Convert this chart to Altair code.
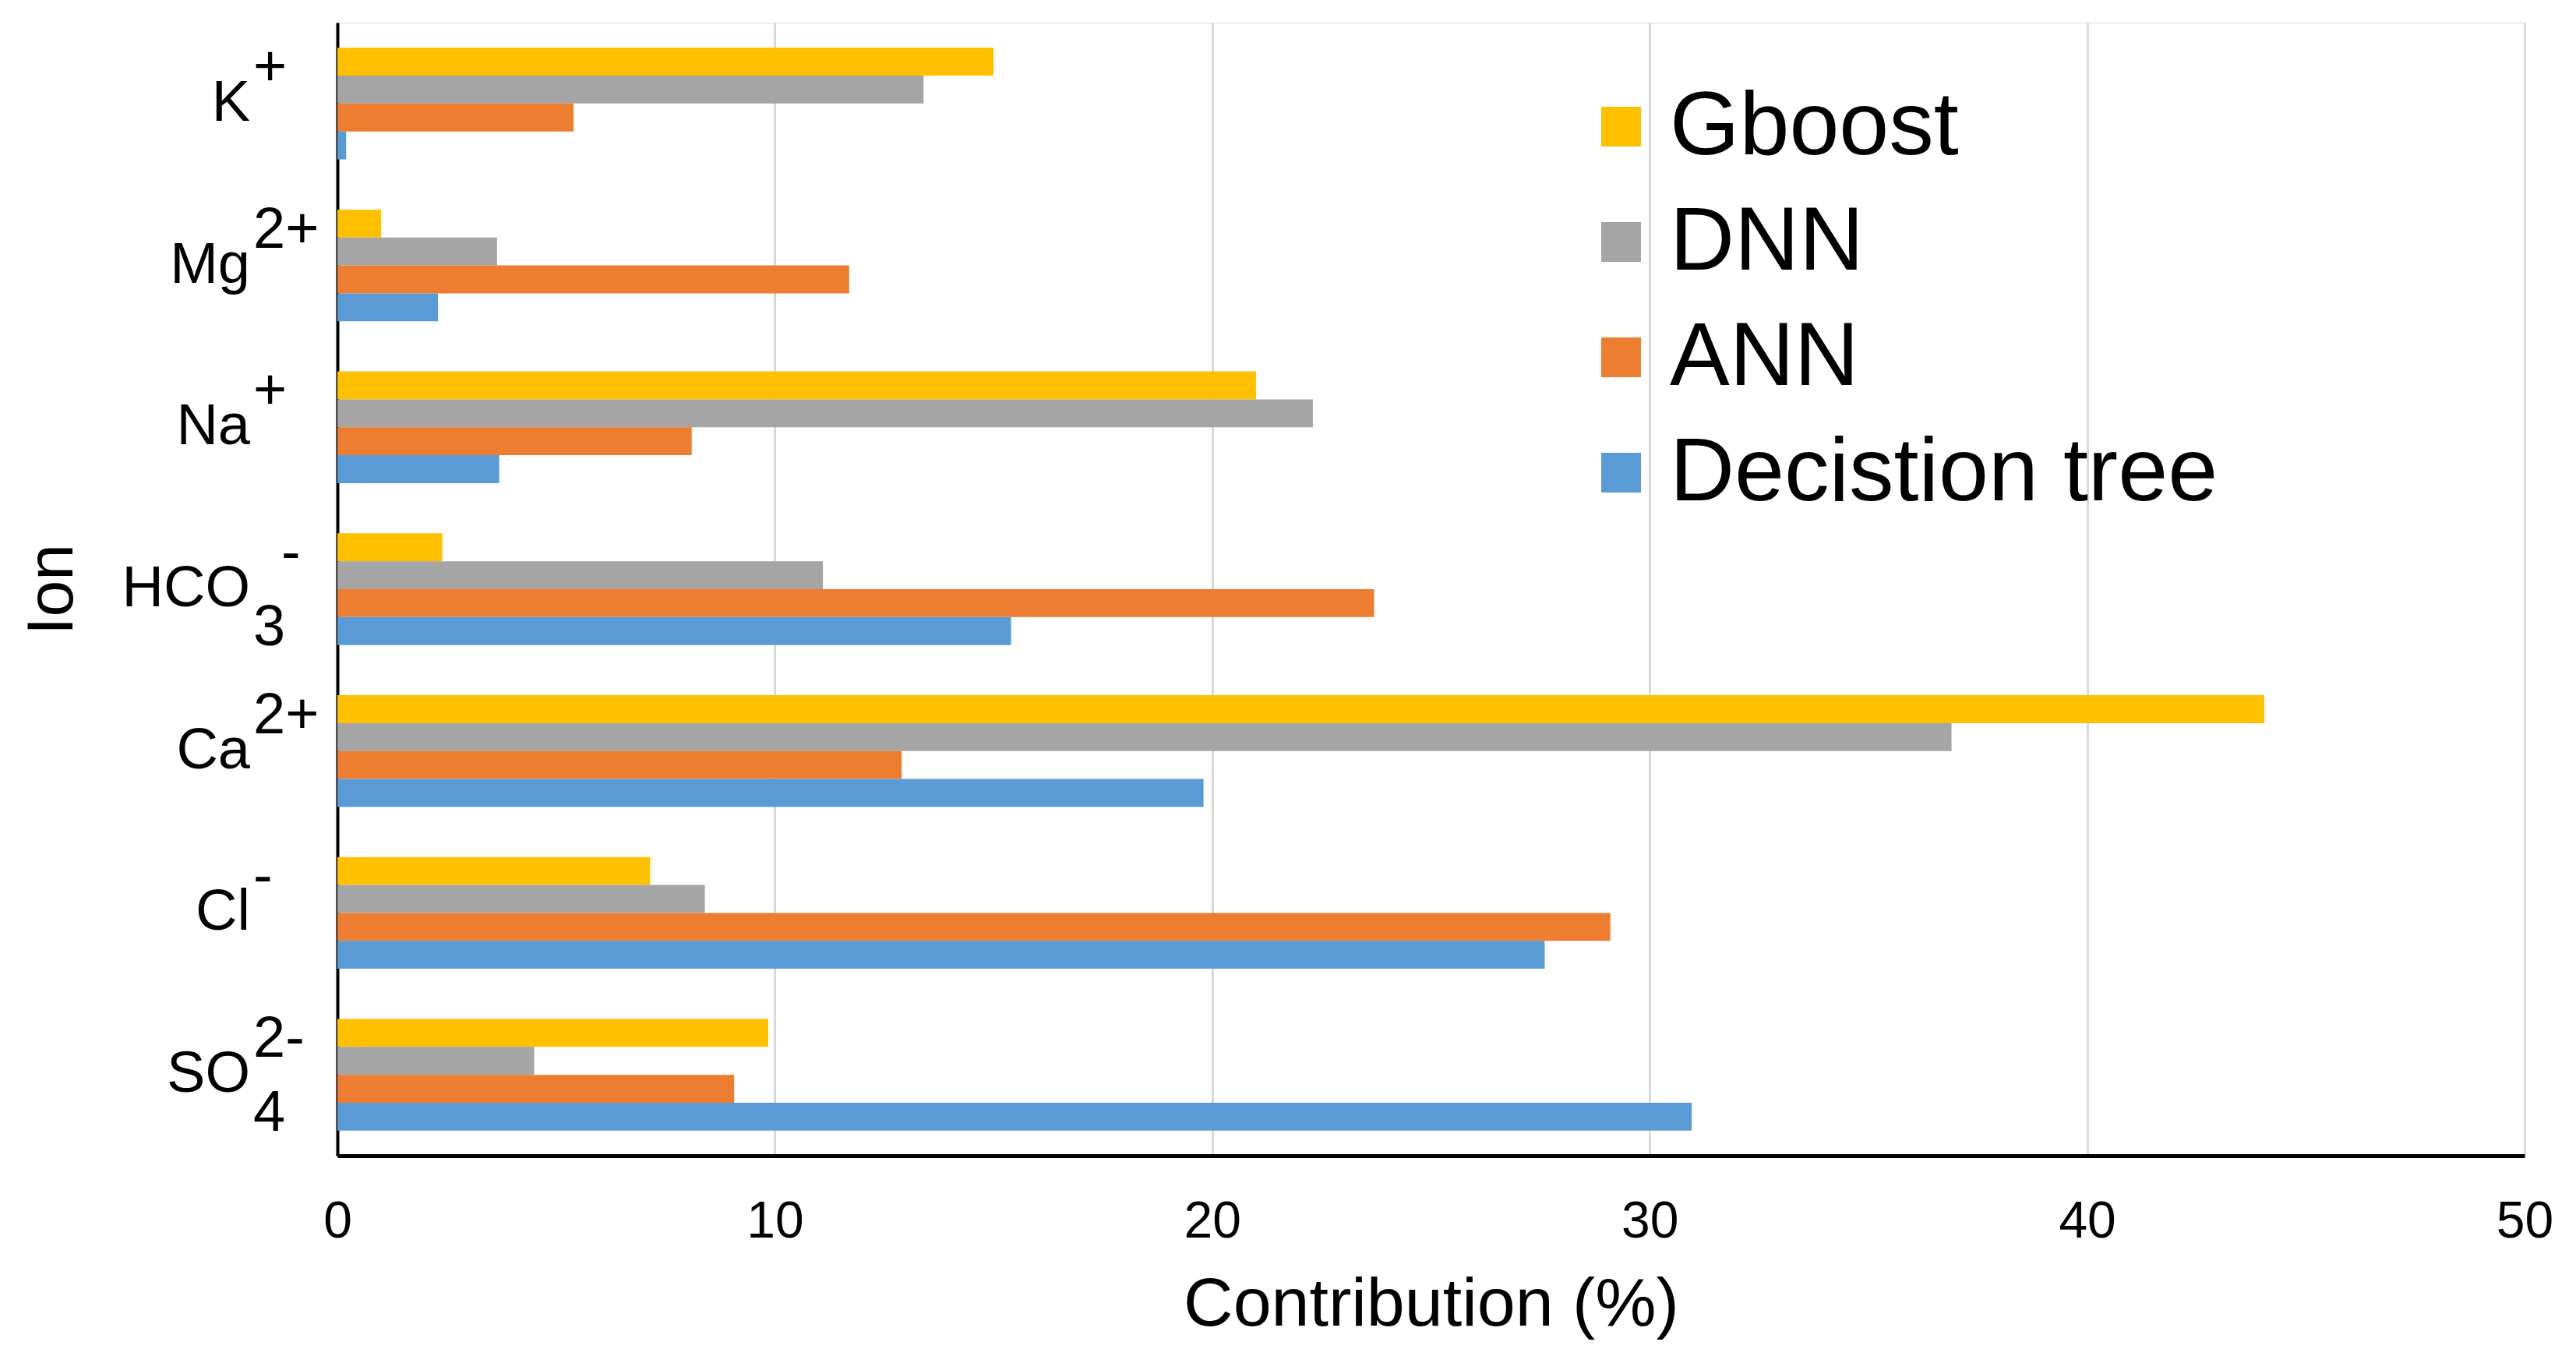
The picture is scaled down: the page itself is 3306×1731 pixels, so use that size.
import altair as alt
import pandas as pd

# ---- data ----
ions = ["K+", "Mg2+", "Na+", "HCO3-", "Ca2+", "Cl-", "SO42-"]
ion_base = ["K", "Mg", "Na", "HCO", "Ca", "Cl", "SO"]
ion_sup = ["+", "2+", "+", "", "2+", "-", "2-"]
ion_sub = ["", "", "", "3", "", "", "4"]
ion_sup_after_sub = ["", "", "", "-", "", "", ""]

models = ["Gboost", "DNN", "ANN", "Decistion tree"]
colors = ["#FFC000", "#A5A5A5", "#ED7D31", "#5B9BD5"]

gboost = [15.0, 1.0, 21.0, 2.4, 44.05, 7.15, 9.85]
dnn = [13.4, 3.65, 22.3, 11.1, 36.9, 8.4, 4.5]
ann = [5.4, 11.7, 8.1, 23.7, 12.9, 29.1, 9.07]
dtree = [0.2, 2.3, 3.7, 15.4, 19.8, 27.6, 30.96]

x_ticks = [0, 10, 20, 30, 40, 50]

# ---- tables ----
series = {"Gboost": gboost, "DNN": dnn, "ANN": ann, "Decistion tree": dtree}
rows = []
for m in models:
    for ion, v in zip(ions, series[m]):
        rows.append({"ion": ion, "model": m, "value": v})
bars_df = pd.DataFrame(rows)
labels_df = pd.DataFrame({"ion": ions, "base": ion_base, "sup": ion_sup,
                          "sub": ion_sub, "sup2": ion_sup_after_sub})

FONT = "Liberation Sans"

y_enc = alt.Y(
    "ion:N",
    sort=ions,
    scale=alt.Scale(paddingInner=0.31, paddingOuter=0.155),
    axis=alt.Axis(
        labels=False, ticks=False, tickSize=0, grid=False,
        domainColor="#000000", domainWidth=4,
        title="Ion", titleFontSize=84, titleFont=FONT, titleFontWeight="normal",
        titleColor="#000000", titlePadding=323,
    ),
)

bars = alt.Chart(bars_df).mark_bar().encode(
    x=alt.X(
        "value:Q",
        scale=alt.Scale(domain=[0, 50], nice=False),
        axis=alt.Axis(
            values=x_ticks, grid=True, gridColor="#D9D9D9", gridWidth=3,
            domainColor="#000000", domainWidth=5, ticks=False, tickSize=0,
            labelFontSize=66, labelFont=FONT, labelColor="#000000",
            labelPadding=52, labelFlush=False,
            title="Contribution (%)", titleFontSize=88, titleFont=FONT,
            titleFontWeight="normal", titleColor="#000000", titlePadding=30,
        ),
    ),
    y=y_enc,
    yOffset=alt.YOffset("model:N", sort=models, scale=alt.Scale(paddingInner=0, paddingOuter=0)),
    color=alt.Color(
        "model:N",
        scale=alt.Scale(domain=models, range=colors),
        legend=alt.Legend(
            title=None, orient="none", legendX=1590, legendY=76,
            symbolType="square", symbolSize=2600, symbolStrokeWidth=0,
            labelFontSize=115, labelFont=FONT, labelColor="#000000", labelLimit=2000,
            rowPadding=32, labelOffset=5, padding=0,
        ),
    ),
)

txt_props = dict(baseline="middle", fontSize=74, font=FONT, color="#000000")

base_txt = alt.Chart(labels_df).mark_text(align="right", **txt_props).encode(
    y=alt.Y("ion:N", sort=ions), x=alt.value(-112), text="base:N")

sup_txt = alt.Chart(labels_df).mark_text(align="left", dy=-45, **txt_props).encode(
    y=alt.Y("ion:N", sort=ions), x=alt.value(-108), text="sup:N")

sub_txt = alt.Chart(labels_df).mark_text(align="left", dy=50, **txt_props).encode(
    y=alt.Y("ion:N", sort=ions), x=alt.value(-108), text="sub:N")

sup2_txt = alt.Chart(labels_df).mark_text(align="left", dy=-45, **txt_props).encode(
    y=alt.Y("ion:N", sort=ions), x=alt.value(-72), text="sup2:N")

chart = alt.layer(bars, base_txt, sup_txt, sub_txt, sup2_txt).properties(
    width=2807,
    height=1454,
    autosize=alt.AutoSizeParams(type="none"),
    padding={"left": 425, "top": 21, "right": 58, "bottom": 240},
).configure_view(strokeWidth=0).configure(background="#ffffff")

chart.save("out.html", embed_options={"renderer": "svg", "actions": False})
